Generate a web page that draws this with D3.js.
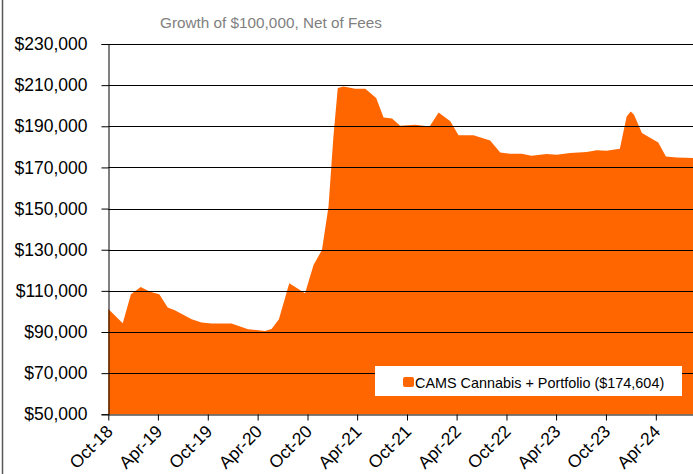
<!DOCTYPE html>
<html>
<head>
<meta charset="utf-8">
<script src="https://cdn.jsdelivr.net/npm/d3@7"></script>
<style>
body { margin: 0; background: #fff; }
text { font-family: "Liberation Sans", Arial, sans-serif; }
</style>
</head>
<body>
<div id="chart"></div>
<script>
// Data
var dates = ["2018-10-01", "2018-11-23", "2018-12-23", "2019-01-28", "2019-03-03", "2019-04-06",
    "2019-05-07", "2019-06-02", "2019-08-03", "2019-09-08", "2019-10-15", "2019-12-27",
    "2020-02-26", "2020-04-28", "2020-05-22", "2020-06-18", "2020-07-26", "2020-09-22",
    "2020-10-23", "2020-11-23", "2020-12-17", "2021-01-04", "2021-01-20", "2021-02-10",
    "2021-03-25", "2021-05-01", "2021-06-10", "2021-07-07", "2021-08-07", "2021-09-06",
    "2021-10-31", "2021-12-23", "2022-01-25", "2022-03-09", "2022-04-08", "2022-06-02",
    "2022-08-02", "2022-09-08", "2022-10-14", "2022-11-26", "2023-01-01", "2023-02-25",
    "2023-04-03", "2023-05-22", "2023-07-22", "2023-08-28", "2023-10-03", "2023-11-21",
    "2023-12-16", "2023-12-31", "2024-01-12", "2024-02-10", "2024-04-10", "2024-05-08",
    "2024-06-16", "2024-08-31"];
var values = [101200, 94300, 108400, 111900, 109600, 108400,
    101900, 100600, 96200, 94600, 94100, 94100,
    91400, 90500, 91500, 96200, 113700, 108900,
    122600, 129900, 151000, 185000, 208600, 209400,
    208300, 208300, 203700, 194300, 193800, 190300,
    190800, 189900, 196700, 192400, 185700, 185700,
    183100, 177300, 176600, 176600, 175700, 176500,
    176200, 177000, 177500, 178400, 178100, 179100,
    194800, 197200, 195600, 186700, 182100, 175300,
    174800, 174604];
var yTicks = [50000, 70000, 90000, 110000, 130000, 150000, 170000, 190000, 210000, 230000];
var xTickLabels = ["Oct-18", "Apr-19", "Oct-19", "Apr-20", "Oct-20", "Apr-21",
    "Oct-21", "Apr-22", "Oct-22", "Apr-23", "Oct-23", "Apr-24"];
var seriesName = "CAMS Cannabis + Portfolio ($174,604)";
var chartTitle = "Growth of $100,000, Net of Fees";

var width = 693, height = 474;
var orange = "#ff6600";

var parseDay = d3.timeParse("%Y-%m-%d");
var parseTick = d3.timeParse("%b-%y");

var data = dates.map(function(d, i) {
    return {date: parseDay(d), value: values[i]};
});

var x = d3.scaleTime()
    .domain([parseDay("2018-10-01"), parseDay("2024-10-01")])
    .range([108.3, 705.7]);
var y = d3.scaleLinear()
    .domain([50000, 230000])
    .range([414.3, 44]);

var svg = d3.select("#chart").append("svg")
    .attr("width", width)
    .attr("height", height);

// outer border on the left
svg.append("line")
    .attr("x1", 2.5).attr("x2", 2.5)
    .attr("y1", 0).attr("y2", height)
    .attr("stroke", "#595959")
    .attr("stroke-width", 1.5);

// title
svg.append("text")
    .attr("x", 271)
    .attr("y", 28)
    .attr("text-anchor", "middle")
    .attr("fill", "#808080")
    .style("font-size", "15.3px")
    .text(chartTitle);

// area
var area = d3.area()
    .x(function(d) { return x(d.date); })
    .y0(y(50000))
    .y1(function(d) { return y(d.value); });

svg.append("path")
    .datum(data)
    .attr("d", area)
    .attr("fill", orange);

// gridlines
svg.append("g")
    .selectAll("line")
    .data(yTicks.slice(1))
    .enter()
    .append("line")
    .attr("x1", x.range()[0])
    .attr("x2", width)
    .attr("y1", function(d) { return Math.round(y(d)) + 0.5; })
    .attr("y2", function(d) { return Math.round(y(d)) + 0.5; })
    .attr("stroke", "#000")
    .attr("stroke-width", 1);

// y axis
var yAxis = svg.append("g")
    .attr("transform", "translate(" + (Math.round(x.range()[0]) + 0.5) + ",0)")
    .call(d3.axisLeft(y)
        .tickValues(yTicks)
        .tickSize(7)
        .tickPadding(14)
        .tickFormat(function(d) { return "$" + d3.format(",")(d); }));
yAxis.selectAll("path, line").attr("stroke", "#000");
yAxis.selectAll("text")
    .attr("fill", "#000")
    .style("font-size", "17.5px")
    .style("font-family", "'Liberation Sans', Arial, sans-serif");

// x axis
var xTicks = xTickLabels.map(function(s) { return parseTick(s); });
var xAxis = svg.append("g")
    .attr("transform", "translate(0," + (Math.round(y(50000)) + 0.5) + ")")
    .call(d3.axisBottom(x)
        .tickValues(xTicks)
        .tickSize(6)
        .tickSizeOuter(0)
        .tickFormat(function(d, i) { return xTickLabels[i]; }));
xAxis.selectAll("path, line").attr("stroke", "#000");
xAxis.selectAll("text")
    .attr("fill", "#000")
    .style("font-size", "17.5px")
    .style("font-family", "'Liberation Sans', Arial, sans-serif")
    .attr("text-anchor", "end")
    .attr("dy", null)
    .attr("y", 0)
    .attr("transform", "translate(5,18) rotate(-45)");

// legend
var legend = svg.append("g");
legend.append("rect")
    .attr("x", 375)
    .attr("y", 366)
    .attr("width", 307)
    .attr("height", 30)
    .attr("fill", "#fff");
legend.append("rect")
    .attr("x", 403)
    .attr("y", 377)
    .attr("width", 11)
    .attr("height", 10)
    .attr("rx", 2)
    .attr("fill", orange);
legend.append("text")
    .attr("x", 415)
    .attr("y", 387.5)
    .attr("fill", "#000")
    .style("font-size", "14.4px")
    .text(seriesName);
</script>
</body>
</html>
